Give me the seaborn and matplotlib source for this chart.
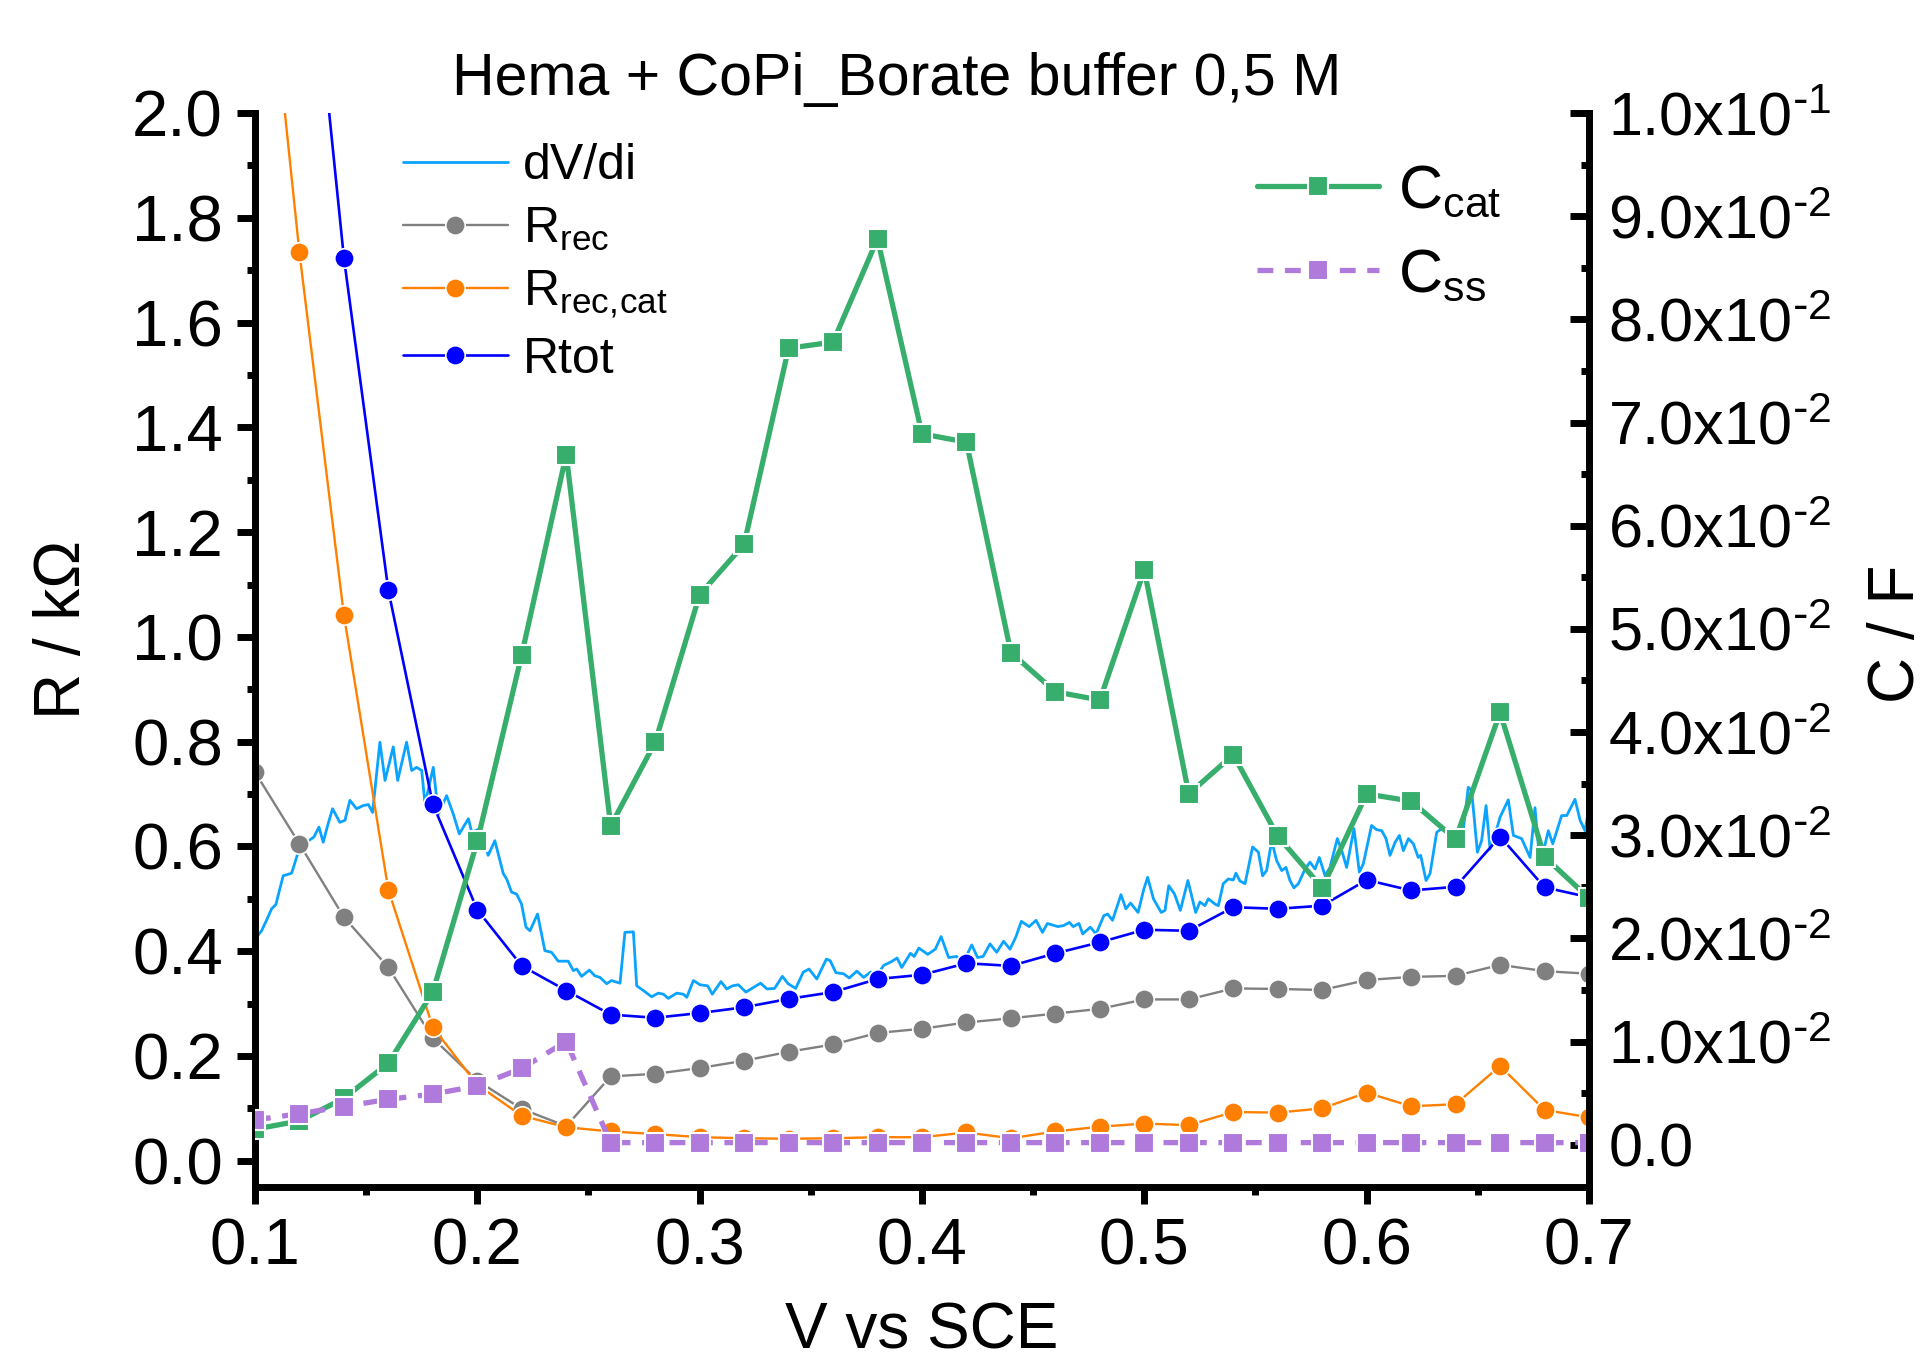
import matplotlib
matplotlib.use("Agg")
import matplotlib.pyplot as plt
from matplotlib.ticker import AutoMinorLocator
import seaborn as sns

# fitted points, potential in V vs SCE
v_pts = [0.10, 0.12, 0.14, 0.16, 0.18, 0.20, 0.22, 0.24, 0.26, 0.28, 0.30,
         0.32, 0.34, 0.36, 0.38, 0.40, 0.42, 0.44, 0.46, 0.48, 0.50,
         0.52, 0.54, 0.56, 0.58, 0.60, 0.62, 0.64, 0.66, 0.68, 0.70]

# resistances in kOhm (left axis)
r_rec = [0.742, 0.605, 0.465, 0.369, 0.234, 0.153, 0.099, 0.066, 0.161, 0.166, 0.177,
         0.191, 0.208, 0.222, 0.244, 0.252, 0.264, 0.272, 0.281, 0.290, 0.308,
         0.308, 0.329, 0.328, 0.326, 0.345, 0.351, 0.353, 0.374, 0.362, 0.357]
r_rec_cat = [2.55, 1.734, 1.042, 0.517, 0.255, 0.145, 0.086, 0.064, 0.056, 0.051, 0.045,
             0.043, 0.042, 0.043, 0.045, 0.045, 0.054, 0.043, 0.056, 0.065, 0.071,
             0.068, 0.093, 0.092, 0.100, 0.130, 0.104, 0.108, 0.181, 0.097, 0.083]
r_tot = [3.40, 2.56, 1.724, 1.089, 0.681, 0.479, 0.372, 0.325, 0.279, 0.273, 0.282,
         0.293, 0.309, 0.322, 0.347, 0.355, 0.377, 0.372, 0.396, 0.417, 0.441,
         0.439, 0.484, 0.481, 0.487, 0.536, 0.516, 0.523, 0.619, 0.522, 0.503]

# capacitances in F (right axis)
c_cat = [0.0015, 0.0023, 0.0045, 0.0079, 0.0148, 0.0294, 0.0475, 0.0669, 0.0309, 0.0390, 0.0533,
         0.0582, 0.0772, 0.0778, 0.0878, 0.0689, 0.0681, 0.0477, 0.0439, 0.0431, 0.0557,
         0.0340, 0.0378, 0.0299, 0.0249, 0.0340, 0.0333, 0.0296, 0.0419, 0.0279, 0.0239]
c_ss = [0.0024, 0.0030, 0.0037, 0.0044, 0.0049, 0.0057, 0.0074, 0.0100, 0.0002, 0.0002, 0.0002,
        0.0002, 0.0002, 0.0002, 0.0002, 0.0002, 0.0002, 0.0002, 0.0002, 0.0002, 0.0002,
        0.0002, 0.0002, 0.0002, 0.0002, 0.0002, 0.0002, 0.0002, 0.0002, 0.0002, 0.0002]

# dV/di curve from the polarisation scan (left axis)
dv_v = [0.1000, 0.1030, 0.1052, 0.1075, 0.1094, 0.1127, 0.1165, 0.1202, 0.1232, 0.1265,
        0.1288, 0.1307, 0.1325, 0.1349, 0.1382, 0.1405, 0.1427, 0.1457, 0.1487, 0.1510,
        0.1529, 0.1562, 0.1585, 0.1622, 0.1642, 0.1682, 0.1705, 0.1727, 0.1750, 0.1765,
        0.1802, 0.1825, 0.1862, 0.1892, 0.1919, 0.1960, 0.1975, 0.2012, 0.2049, 0.2079,
        0.2117, 0.2132, 0.2154, 0.2177, 0.2199, 0.2219, 0.2237, 0.2271, 0.2304, 0.2334,
        0.2364, 0.2409, 0.2432, 0.2447, 0.2469, 0.2504, 0.2529, 0.2552, 0.2582, 0.2604,
        0.2642, 0.2664, 0.2702, 0.2717, 0.2747, 0.2784, 0.2814, 0.2837, 0.2859, 0.2897,
        0.2927, 0.2942, 0.2972, 0.3002, 0.3036, 0.3057, 0.3096, 0.3122, 0.3148, 0.3174,
        0.3208, 0.3243, 0.3274, 0.3303, 0.3337, 0.3372, 0.3398, 0.3432, 0.3466, 0.3492,
        0.3527, 0.3570, 0.3587, 0.3613, 0.3647, 0.3673, 0.3707, 0.3738, 0.3768, 0.3802,
        0.3828, 0.3862, 0.3888, 0.3909, 0.3948, 0.3965, 0.3986, 0.4026, 0.4060, 0.4086,
        0.4120, 0.4155, 0.4186, 0.4224, 0.4250, 0.4275, 0.4306, 0.4336, 0.4367, 0.4396,
        0.4422, 0.4447, 0.4482, 0.4513, 0.4542, 0.4564, 0.4611, 0.4637, 0.4663, 0.4680,
        0.4706, 0.4723, 0.4757, 0.4783, 0.4818, 0.4835, 0.4857, 0.4895, 0.4917, 0.4938,
        0.4972, 0.4998, 0.5015, 0.5041, 0.5076, 0.5093, 0.5110, 0.5136, 0.5162, 0.5196,
        0.5231, 0.5250, 0.5273, 0.5288, 0.5318, 0.5333, 0.5355, 0.5378, 0.5400, 0.5412,
        0.5430, 0.5453, 0.5487, 0.5513, 0.5532, 0.5550, 0.5573, 0.5595, 0.5618, 0.5637,
        0.5655, 0.5673, 0.5693, 0.5723, 0.5745, 0.5768, 0.5787, 0.5813, 0.5835, 0.5868,
        0.5888, 0.5910, 0.5943, 0.5967, 0.5985, 0.6022, 0.6045, 0.6068, 0.6087, 0.6105,
        0.6128, 0.6147, 0.6165, 0.6188, 0.6210, 0.6232, 0.6243, 0.6267, 0.6285, 0.6315,
        0.6337, 0.6360, 0.6397, 0.6435, 0.6457, 0.6472, 0.6498, 0.6517, 0.6537, 0.6555,
        0.6577, 0.6600, 0.6637, 0.6660, 0.6697, 0.6735, 0.6757, 0.6780, 0.6817, 0.6837,
        0.6877, 0.6900, 0.6937, 0.6960, 0.6982, 0.7000]
dv_r = [0.423, 0.439, 0.459, 0.481, 0.489, 0.544, 0.549, 0.599, 0.608, 0.618,
        0.637, 0.608, 0.637, 0.672, 0.646, 0.650, 0.688, 0.672, 0.678, 0.680,
        0.665, 0.799, 0.726, 0.790, 0.726, 0.799, 0.745, 0.751, 0.745, 0.681,
        0.751, 0.662, 0.697, 0.662, 0.624, 0.653, 0.627, 0.634, 0.583, 0.611,
        0.548, 0.538, 0.513, 0.509, 0.490, 0.446, 0.439, 0.471, 0.401, 0.398,
        0.381, 0.381, 0.363, 0.366, 0.352, 0.364, 0.353, 0.350, 0.338, 0.344,
        0.339, 0.436, 0.437, 0.334, 0.325, 0.313, 0.320, 0.318, 0.310, 0.320,
        0.318, 0.312, 0.344, 0.336, 0.334, 0.318, 0.342, 0.328, 0.334, 0.336,
        0.322, 0.331, 0.339, 0.328, 0.329, 0.352, 0.338, 0.329, 0.360, 0.366,
        0.347, 0.385, 0.382, 0.359, 0.357, 0.349, 0.362, 0.350, 0.360, 0.357,
        0.373, 0.380, 0.387, 0.369, 0.396, 0.390, 0.406, 0.394, 0.404, 0.428,
        0.388, 0.390, 0.379, 0.412, 0.388, 0.390, 0.414, 0.398, 0.419, 0.404,
        0.427, 0.457, 0.447, 0.459, 0.436, 0.453, 0.447, 0.449, 0.455, 0.447,
        0.453, 0.433, 0.446, 0.433, 0.468, 0.471, 0.459, 0.508, 0.481, 0.492,
        0.474, 0.519, 0.541, 0.500, 0.474, 0.478, 0.525, 0.509, 0.478, 0.535,
        0.474, 0.494, 0.487, 0.500, 0.490, 0.487, 0.529, 0.538, 0.536, 0.549,
        0.534, 0.529, 0.599, 0.589, 0.544, 0.554, 0.611, 0.573, 0.554, 0.560,
        0.535, 0.521, 0.529, 0.557, 0.570, 0.557, 0.579, 0.544, 0.560, 0.615,
        0.592, 0.560, 0.634, 0.551, 0.567, 0.640, 0.632, 0.630, 0.615, 0.583,
        0.608, 0.621, 0.592, 0.615, 0.605, 0.579, 0.583, 0.535, 0.548, 0.627,
        0.634, 0.627, 0.621, 0.634, 0.713, 0.707, 0.589, 0.611, 0.678, 0.595,
        0.621, 0.656, 0.689, 0.621, 0.615, 0.579, 0.674, 0.564, 0.630, 0.605,
        0.659, 0.659, 0.690, 0.650, 0.630, 0.675]

# axis ticks
x_ticks = [0.1, 0.2, 0.3, 0.4, 0.5, 0.6, 0.7]
x_tick_labels = ["0.1", "0.2", "0.3", "0.4", "0.5", "0.6", "0.7"]
r_ticks = [0.0, 0.2, 0.4, 0.6, 0.8, 1.0, 1.2, 1.4, 1.6, 1.8, 2.0]
r_tick_labels = ["0.0", "0.2", "0.4", "0.6", "0.8", "1.0", "1.2", "1.4", "1.6", "1.8", "2.0"]
c_ticks = [0.0, 0.01, 0.02, 0.03, 0.04, 0.05, 0.06, 0.07, 0.08, 0.09, 0.1]
c_tick_labels = (["0.0"]
                 + [r"$\mathregular{%d.0x10^{\text{-}2}}$" % k for k in range(1, 10)]
                 + [r"$\mathregular{1.0x10^{\text{-}1}}$"])

sns.set_style("ticks")
plt.rcParams['font.family'] = ['Liberation Sans', 'DejaVu Sans']
plt.rcParams['mathtext.default'] = 'regular'
plt.rcParams.update({'axes.edgecolor': 'black', 'xtick.color': 'black', 'ytick.color': 'black',
                     'text.color': 'black', 'axes.labelcolor': 'black'})

fig = plt.figure(figsize=(19.27, 13.57), dpi=100)
ax = fig.add_axes([0.1323, 0.1253, 0.6923, 0.7914])
ax2 = ax.twinx()

# left axis: resistances
sns.lineplot(x=dv_v, y=dv_r, ax=ax, color='#0AA4FF', lw=2.0, sort=False,
             estimator=None, label='dV/di')
sns.lineplot(x=v_pts, y=r_rec, ax=ax, color='#808080', lw=1.7, marker='o', markersize=14,
             markeredgecolor='white', markeredgewidth=1.2, sort=False, estimator=None,
             label=r'$\mathregular{R_{rec}}$')
sns.lineplot(x=v_pts, y=r_rec_cat, ax=ax, color='#FF8000', lw=1.7, marker='o', markersize=14,
             markeredgecolor='white', markeredgewidth=1.2, sort=False, estimator=None,
             label=r'$\mathregular{R_{rec,\!cat}}$')
sns.lineplot(x=v_pts, y=r_tot, ax=ax, color='#0000FF', lw=1.9, marker='o', markersize=14,
             markeredgecolor='white', markeredgewidth=1.2, sort=False, estimator=None,
             label='Rtot')

# right axis: capacitances
sns.lineplot(x=v_pts, y=c_cat, ax=ax2, color='#38AE6C', lw=3.8, marker='s', markersize=15,
             markeredgecolor='white', markeredgewidth=1.5, sort=False, estimator=None,
             label=r'$\mathregular{C_{cat}}$')
sns.lineplot(x=v_pts, y=c_ss, ax=ax2, color='#B07ADC', lw=3.8, marker='s', markersize=15,
             markeredgecolor='white', markeredgewidth=1.5, sort=False, estimator=None,
             linestyle=(0, (3, 2.2)), label=r'$\mathregular{C_{ss}}$')

ax.set_xlim(0.1, 0.7)
ax.set_ylim(-0.05, 2.0)
ax2.set_ylim(-0.0041, 0.1)
ax.set_xticks(x_ticks, x_tick_labels)
ax.set_yticks(r_ticks, r_tick_labels)
ax2.set_yticks(c_ticks, c_tick_labels)
ax.xaxis.set_minor_locator(AutoMinorLocator(2))
ax.yaxis.set_minor_locator(AutoMinorLocator(2))
ax2.yaxis.set_minor_locator(AutoMinorLocator(2))
ax.set_xlabel('')
ax.set_ylabel('')
ax2.set_ylabel('')

for s in ['top', 'right']:
    ax.spines[s].set_visible(False)
for s in ['top', 'left', 'bottom']:
    ax2.spines[s].set_visible(False)
ax.spines['left'].set_linewidth(5)
ax.spines['bottom'].set_linewidth(5)
ax2.spines['right'].set_linewidth(5)

ax.tick_params(axis='y', which='major', direction='out', length=13, width=5,
               labelsize=47, pad=10, left=True, right=False)
ax.tick_params(axis='y', which='minor', direction='out', length=5.5, width=5, left=True, right=False)
ax.tick_params(axis='x', which='major', direction='out', length=12, width=5,
               labelsize=47, pad=10, bottom=True, top=False)
ax.tick_params(axis='x', which='minor', direction='out', length=5.5, width=5, bottom=True, top=False)
ax2.tick_params(axis='y', which='major', direction='in', length=14, width=5,
                labelsize=44, pad=14, right=True, left=False)
ax2.tick_params(axis='y', which='minor', direction='in', length=6, width=5, right=True, left=False)

# legends
h1, l1 = ax.get_legend_handles_labels()
ax.legend(h1, l1, loc='upper left', bbox_to_anchor=(0.2091, 0.8946),
          bbox_transform=fig.transFigure, frameon=False, fontsize=36,
          borderpad=0, borderaxespad=0, handlelength=2.1, handletextpad=0.3,
          labelspacing=0.33)
h2, l2 = ax2.get_legend_handles_labels()
ax2.legend(h2, l2, loc='upper left', bbox_to_anchor=(0.6523, 0.8799),
           bbox_transform=fig.transFigure, frameon=False, fontsize=44,
           borderpad=0, borderaxespad=0, handlelength=2.0, handletextpad=0.3,
           labelspacing=0.45)

# title and axis labels
fig.text(0.4655, 0.9303, 'Hema + CoPi_Borate buffer 0,5 M', fontsize=42.5,
         ha='center', va='baseline')
fig.text(0.0415, 0.536, 'R / k\u03a9', fontsize=46, rotation=90,
         ha='center', va='baseline', rotation_mode='anchor')
fig.text(0.993, 0.533, 'C / F', fontsize=46, rotation=90,
         ha='center', va='baseline', rotation_mode='anchor')
fig.text(0.4785, 0.0065, 'V vs SCE', fontsize=46, ha='center', va='baseline')

fig.savefig('out.png', dpi=100)
